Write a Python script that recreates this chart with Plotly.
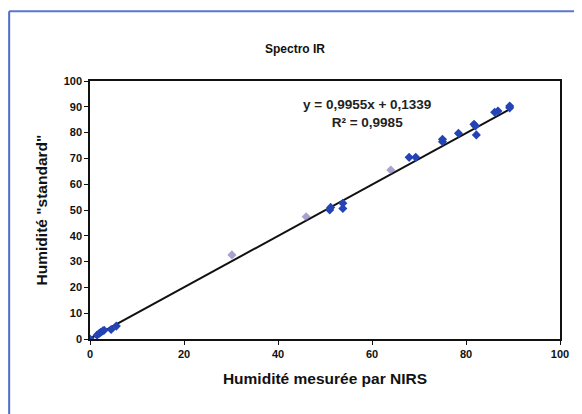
import plotly.graph_objects as go

# measured points (NIRS vs standard)
x_nirs = [0.0, 1.5, 2.0, 2.3, 2.7, 3.0, 4.5, 5.6,
          30.2, 46.0, 51.0, 51.2, 53.8, 53.8, 64.0,
          67.9, 69.3, 75.0, 75.0, 78.4, 81.7, 82.0, 82.2,
          86.1, 86.8, 89.3, 89.3]
y_std = [0.0, 1.5, 2.2, 2.6, 3.1, 3.4, 3.7, 5.0,
         32.6, 47.4, 50.0, 51.0, 52.6, 50.6, 65.5,
         70.4, 70.4, 77.4, 76.5, 79.7, 83.2, 82.6, 79.1,
         87.9, 88.4, 90.3, 89.6]
faded = [30.2, 46.0, 64.0]

slope = 0.9955
intercept = 0.1339
fit_x = [0, 89.5]
fit_y = [slope * v + intercept for v in fit_x]

x_ticks = [0, 20, 40, 60, 80, 100]
y_ticks = [0, 10, 20, 30, 40, 50, 60, 70, 80, 90, 100]

colors = ['rgba(110,100,170,0.6)' if v in faded else '#2443b4' for v in x_nirs]

font = "Liberation Sans, Arial, sans-serif"

fig = go.Figure()
fig.add_trace(go.Scatter(
    x=fit_x, y=fit_y, mode='lines',
    line=dict(color='#111111', width=2), showlegend=False
))
fig.add_trace(go.Scatter(
    x=x_nirs, y=y_std, mode='markers',
    marker=dict(symbol='diamond', size=7, color=colors),
    showlegend=False
))

fig.add_annotation(
    x=0.59, y=0.945, xref='paper', yref='paper',
    text="<b>y = 0,9955x + 0,1339<br>R² = 0,9985</b>",
    showarrow=False, align='center',
    font=dict(family=font, size=13.5, color='#222222'),
    xanchor='center', yanchor='top'
)

# scan frame (blue border)
fig.add_shape(type='line', xref='paper', yref='paper',
              x0=-0.172, x1=1.1, y0=1.27, y1=1.27,
              line=dict(color='#5b76cf', width=2))
fig.add_shape(type='line', xref='paper', yref='paper',
              x0=-0.172, x1=-0.172, y0=1.27, y1=-0.35,
              line=dict(color='#4f6ccb', width=2))

fig.update_layout(
    width=574, height=406,
    margin=dict(l=82, r=22, t=73, b=75),
    paper_bgcolor='white', plot_bgcolor='white',
    title=dict(text="<b>Spectro IR</b>", x=0.5, xanchor='center',
               y=0.9, yanchor='middle',
               font=dict(family=font, size=12, color='#111111')),
    font=dict(family=font, color='#111111'),
)
fig.update_xaxes(
    range=[0, 100], tickvals=x_ticks, ticktext=[f"<b>{v}</b>" for v in x_ticks],
    showgrid=False, zeroline=False, automargin=False,
    showline=True, linecolor='#111111', linewidth=1.5, mirror=True,
    ticks='outside', ticklen=4, tickcolor='#111111',
    tickfont=dict(size=11),
    title=dict(text="<b>Humidité mesurée par NIRS</b>", font=dict(size=15.5), standoff=14)
)
fig.update_yaxes(
    range=[0, 100], tickvals=y_ticks, ticktext=[f"<b>{v}</b>" for v in y_ticks],
    showgrid=False, zeroline=False, automargin=False,
    showline=True, linecolor='#111111', linewidth=1.5, mirror=True,
    ticks='outside', ticklen=4, tickcolor='#111111',
    tickfont=dict(size=11),
    title=dict(text='<b>Humidité "standard"</b>', font=dict(size=15.5), standoff=12)
)

fig.write_html("out.html")
